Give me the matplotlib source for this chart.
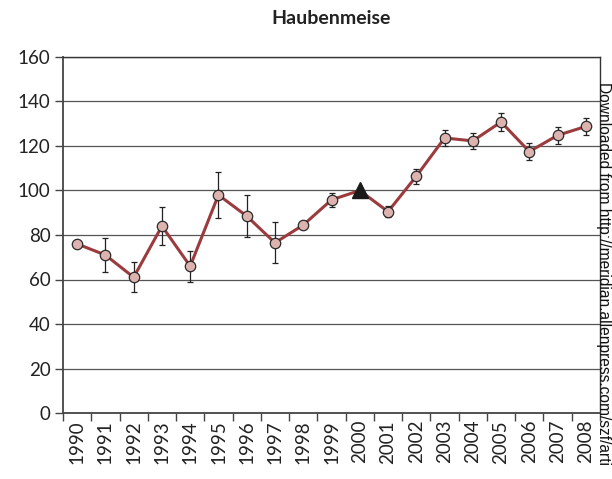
import matplotlib.pyplot as plt
import numpy as np

years = list(range(1990, 2009))
index = [76, 71, 61, 84, 66, 98, 88.5, 76.5, 84.5, 95.8, 100, 90.5, 106.4, 123.6, 122.3, 130.8, 117.5, 124.8, 128.8]
err = [0, 7.7, 6.8, 8.7, 7.0, 10.2, 9.4, 9.3, 0, 3.2, 0, 2.5, 3.3, 3.7, 3.6, 4.0, 3.7, 3.8, 3.7]
ref_year = 2000

plt.rcParams['font.family'] = ['Lato', 'DejaVu Sans']

fig = plt.figure(figsize=(6.12, 4.79), dpi=100)
ax = fig.add_axes([63 / 612, 1 - 413 / 479, 537 / 612, 356 / 479])

x = np.arange(len(years))
y = np.array(index)
is_ref = np.array(years) == ref_year

ax.plot(x, y, color='#9b3b3d', lw=2.2, zorder=3)
ax.errorbar(x, y, yerr=err, fmt='none', ecolor='#222222', elinewidth=0.9,
            capsize=2.2, capthick=0.9, zorder=4)
ax.plot(x[~is_ref], y[~is_ref], 'o', ms=7.5, mfc='#dcb3ae', mec='#2a2a2a',
        mew=0.9, zorder=5)
ax.plot(x[is_ref], y[is_ref], '^', ms=11, color='#1a1a1a', zorder=5)

ax.set_ylim(0, 160)
ax.set_yticks(range(0, 161, 20))
ax.set_xlim(-0.5, len(years) - 0.5)
ax.set_xticks(np.arange(len(years) + 1) - 0.5)
ax.set_xticklabels([])
ax.set_xticks(x, minor=True)
ax.set_xticklabels([str(v) for v in years], minor=True, rotation=90)
ax.tick_params(axis='x', which='minor', length=0, pad=5, labelsize=13.5,
               labelcolor='#222222')
ax.tick_params(axis='x', which='major', length=6, width=1, color='#444444')
ax.tick_params(axis='y', length=6, width=1, color='#444444', labelsize=13.5,
               labelcolor='#222222', pad=3)

ax.grid(axis='y', color='#555555', lw=0.9, zorder=1)
for side in ['left', 'bottom']:
    ax.spines[side].set_color('#444444')
    ax.spines[side].set_linewidth(1.3)
for side in ['top', 'right']:
    ax.spines[side].set_color('#333333')
    ax.spines[side].set_linewidth(1.0)

fig.text(331 / 612, 1 - 18 / 479, 'Haubenmeise', ha='center', va='center',
         fontsize=14, fontweight='bold', color='#222222')
fig.text(604 / 612, 1 - 82 / 479,
         'Downloaded from http://meridian.allenpress.com/szf/arti',
         rotation=-90, ha='center', va='top', fontsize=11.2,
         family='Liberation Sans', color='#111111')

fig.savefig('out.png', dpi=100)
